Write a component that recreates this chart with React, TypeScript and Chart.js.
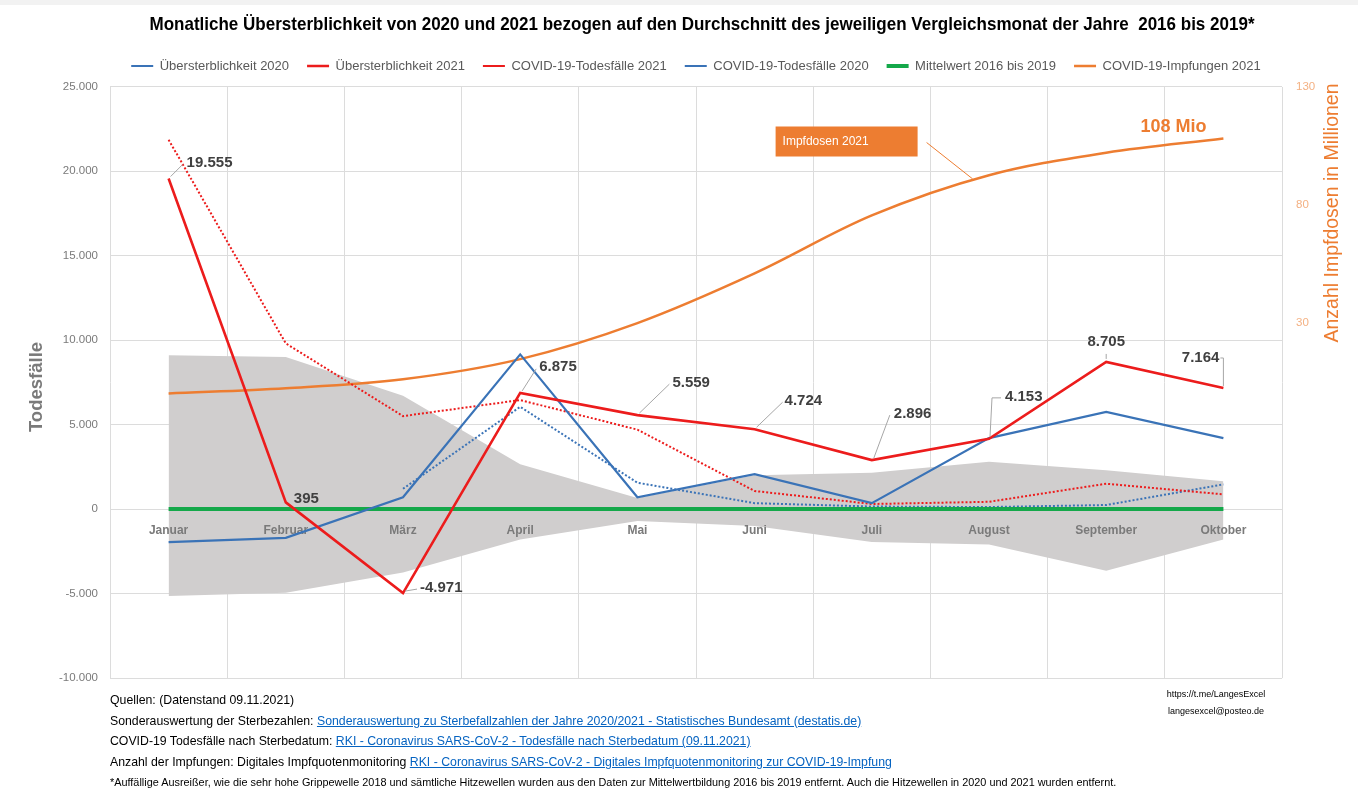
import React, { useEffect, useRef } from 'react';
import { Chart, registerables } from 'chart.js';

Chart.register(...registerables);

// ---------- data ----------
const months = ['Januar', 'Februar', 'März', 'April', 'Mai', 'Juni', 'Juli', 'August', 'September', 'Oktober'];
const ueber2020 = [-1950, -1700, 700, 9150, 700, 2070, 350, 4200, 5750, 4200];
const ueber2021 = [19555, 395, -4971, 6875, 5559, 4724, 2896, 4153, 8705, 7164];
const covid2021 = [21850, 9800, 5500, 6450, 4700, 1070, 300, 430, 1500, 870];
const covid2020 = [null, null, 1200, 6050, 1560, 350, 150, 120, 240, 1460];
const mittelwert = [0, 0, 0, 0, 0, 0, 0, 0, 0, 0];
const bandUpper = [9100, 9000, 6700, 2650, 650, 2000, 2150, 2800, 2300, 1650];
const bandLower = [-5150, -4950, -3750, -1800, -700, -1000, -1950, -2100, -3650, -1800];
const impfungen = [0.3, 2.5, 6.3, 14.8, 30, 51, 75.5, 92.5, 102, 108];

const leftMin = -10000;
const leftMax = 25000;
const leftStep = 5000;
const rightMin = -120;
const rightMax = 130;
const rightStep = 50;

const seriesNames = [
  'Übersterblichkeit 2020',
  'Übersterblichkeit 2021',
  'COVID-19-Todesfälle 2021',
  'COVID-19-Todesfälle 2020',
  'Mittelwert 2016 bis 2019',
  'COVID-19-Impfungen 2021',
];

const titleText =
  'Monatliche Übersterblichkeit von 2020 und 2021 bezogen auf den Durchschnitt des jeweiligen Vergleichsmonat der Jahre  2016 bis 2019*';

// ---------- styles ----------
const SANS = '"Liberation Sans", Arial, sans-serif';
const BLUE = '#3a73b7';
const RED = '#ec1c1c';
const GREEN = '#14a84a';
const ORANGE = '#ed7d31';
const BAND = '#d0cece';
const GRID = '#dcdcdc';
const TEXTGRAY = '#595959';
const AXISGRAY = '#7a7a7a';

// label placement for data labels of "Übersterblichkeit 2021": [dx, dy, align, leaderToX, leaderToY]
const labelPlacement: [number, number, CanvasTextAlign, number, number][] = [
  [18, -16, 'left', 14, -14],
  [8, -4, 'left', 0, 0],
  [17, -5, 'left', 14, -4],
  [19, -26, 'left', 16, -24],
  [35, -32, 'left', 32, -31],
  [30, -28, 'left', 28, -27],
  [22, -46, 'left', 18, -45],
  [16, -42, 'left', 12, -41],
  [0, -20, 'center', 0, -8],
  [-4, -30, 'right', 0, -30],
];

function fmt(v: number): string {
  const neg = v < 0;
  const s = String(Math.abs(Math.round(v)));
  const parts: string[] = [];
  for (let i = s.length; i > 0; i -= 3) parts.unshift(s.slice(Math.max(0, i - 3), i));
  return (neg ? '-' : '') + parts.join('.');
}

const overlayPlugin = {
  id: 'overlay',
  afterDatasetDraw(chart: any, args: any) {
    if (args.index !== 7) return;
    const ctx = chart.ctx;
    const xs = chart.scales.x;
    const ys = chart.scales.y;
    const y0 = ys.getPixelForValue(0);
    ctx.save();
    ctx.font = `bold 12px ${SANS}`;
    ctx.fillStyle = AXISGRAY;
    ctx.textAlign = 'center';
    ctx.textBaseline = 'middle';
    months.forEach((m, i) => {
      ctx.fillText(m, xs.getPixelForValue(i), y0 + 22);
    });
    ctx.restore();
  },
  afterDatasetsDraw(chart: any) {
    const ctx = chart.ctx;
    const xs = chart.scales.x;
    const ys = chart.scales.y;
    const y1 = chart.scales.y1;
    ctx.save();

    // title
    ctx.font = `bold 19px ${SANS}`;
    ctx.fillStyle = '#000000';
    ctx.textAlign = 'center';
    ctx.textBaseline = 'middle';
    ctx.fillText(titleText, 702, 25, 1105);

    // data labels
    ueber2021.forEach((v, i) => {
      const px = xs.getPixelForValue(i);
      const py = ys.getPixelForValue(v);
      const [dx, dy, align, lx, ly] = labelPlacement[i];
      if (lx !== 0 || ly !== 0) {
        ctx.strokeStyle = '#a6a6a6';
        ctx.lineWidth = 1;
        ctx.beginPath();
        if (i === 9) {
          ctx.moveTo(px, py - 2);
          ctx.lineTo(px, py + ly);
          ctx.lineTo(px - 3, py + ly);
        } else if (i === 7) {
          ctx.moveTo(px + 1, py - 2);
          ctx.lineTo(px + 3, py + ly);
          ctx.lineTo(px + lx, py + ly);
        } else if (i === 8) {
          ctx.moveTo(px, py - 3);
          ctx.lineTo(px, py + ly);
        } else {
          ctx.moveTo(px + 2, py - 2);
          ctx.lineTo(px + lx, py + ly);
        }
        ctx.stroke();
      }
      ctx.font = `bold 15px ${SANS}`;
      ctx.fillStyle = '#404040';
      ctx.textAlign = align;
      ctx.textBaseline = 'middle';
      ctx.fillText(fmt(v), px + dx, py + dy);
    });

    // Impfdosen box
    const xJul = xs.getPixelForValue(6);
    const xAug = xs.getPixelForValue(7);
    const yJul = y1.getPixelForValue(impfungen[6]);
    const yAug = y1.getPixelForValue(impfungen[7]);
    const t = 0.86;
    const ax = xJul + (xAug - xJul) * t;
    const ay = yJul + (yAug - yJul) * t - 2;
    const boxX = xs.getPixelForValue(5) + 21;
    const boxY = chart.chartArea.top + 40;
    ctx.strokeStyle = ORANGE;
    ctx.lineWidth = 1;
    ctx.beginPath();
    ctx.moveTo(boxX + 151, boxY + 16);
    ctx.lineTo(ax, ay);
    ctx.stroke();
    ctx.fillStyle = ORANGE;
    ctx.fillRect(boxX, boxY, 142, 30);
    ctx.fillStyle = '#ffffff';
    ctx.font = `12px ${SANS}`;
    ctx.textAlign = 'left';
    ctx.textBaseline = 'middle';
    ctx.fillText('Impfdosen 2021', boxX + 7, boxY + 15);

    // 108 Mio
    const last = impfungen.length - 1;
    const lxp = xs.getPixelForValue(last);
    const lyp = y1.getPixelForValue(impfungen[last]);
    ctx.fillStyle = ORANGE;
    ctx.font = `bold 18px ${SANS}`;
    ctx.textAlign = 'right';
    ctx.fillText(`${impfungen[last]} Mio`, lxp - 17, lyp - 12);

    // axis titles
    ctx.save();
    ctx.translate(37, 387);
    ctx.rotate(-Math.PI / 2);
    ctx.font = `bold 18.5px ${SANS}`;
    ctx.fillStyle = AXISGRAY;
    ctx.textAlign = 'center';
    ctx.textBaseline = 'middle';
    ctx.fillText('Todesfälle', 0, 0);
    ctx.restore();

    ctx.save();
    ctx.translate(1333, 213);
    ctx.rotate(-Math.PI / 2);
    ctx.font = `19.5px ${SANS}`;
    ctx.fillStyle = ORANGE;
    ctx.textAlign = 'center';
    ctx.textBaseline = 'middle';
    ctx.fillText('Anzahl Impfdosen in Millionen', 0, 0);
    ctx.restore();

    ctx.restore();
  },
};

const linkStyle: React.CSSProperties = { color: '#0563c1', textDecoration: 'underline' };

export default function App() {
  const ref = useRef<HTMLCanvasElement | null>(null);

  useEffect(() => {
    document.body.style.margin = '0';
    if (!ref.current) return;
    const lineBase = { pointRadius: 0, pointHoverRadius: 0, tension: 0, fill: false };
    const chart = new Chart(ref.current, {
      type: 'line',
      data: {
        labels: months,
        datasets: [
          { ...lineBase, label: seriesNames[0], data: ueber2020, borderColor: BLUE, backgroundColor: BLUE, borderWidth: 2.2, order: 1, yAxisID: 'y' },
          { ...lineBase, label: seriesNames[1], data: ueber2021, borderColor: RED, backgroundColor: RED, borderWidth: 2.6, order: 0, yAxisID: 'y' },
          { ...lineBase, label: seriesNames[2], data: covid2021, borderColor: RED, backgroundColor: RED, borderWidth: 2, borderDash: [2, 2], order: 3, yAxisID: 'y' },
          { ...lineBase, label: seriesNames[3], data: covid2020, borderColor: BLUE, backgroundColor: BLUE, borderWidth: 2, borderDash: [2, 2], order: 4, yAxisID: 'y' },
          { ...lineBase, label: seriesNames[4], data: mittelwert, borderColor: GREEN, backgroundColor: GREEN, borderWidth: 4, order: 2, yAxisID: 'y' },
          { ...lineBase, label: seriesNames[5], data: impfungen, borderColor: ORANGE, backgroundColor: ORANGE, borderWidth: 2.5, tension: 0.35, order: 5, yAxisID: 'y1' },
          { ...lineBase, label: 'band-lower', data: bandLower, borderColor: 'rgba(0,0,0,0)', borderWidth: 0, order: 20, yAxisID: 'y' },
          { ...lineBase, label: 'band-upper', data: bandUpper, borderColor: 'rgba(0,0,0,0)', borderWidth: 0, backgroundColor: BAND, fill: '-1', order: 19, yAxisID: 'y' },
        ] as any,
      },
      options: {
        responsive: false,
        animation: false,
        devicePixelRatio: 1,
        layout: { padding: { top: 41.5, left: 0, right: 0, bottom: 4 } },
        plugins: {
          tooltip: { enabled: false },
          title: { display: false },
          legend: {
            display: true,
            fullSize: false,
            labels: {
              usePointStyle: true,
              pointStyle: 'line',
              pointStyleWidth: 22,
              boxHeight: 13,
              color: TEXTGRAY,
              padding: 18,
              font: { family: SANS, size: 13 },
              filter: (item: any) => item.datasetIndex < 6,
              sort: (a: any, b: any) => a.datasetIndex - b.datasetIndex,
            },
          },
        },
        scales: {
          x: {
            position: 'top',
            offset: true,
            grid: { display: true, offset: true, color: GRID, drawTicks: true, tickLength: 4, tickColor: 'rgba(0,0,0,0)' },
            border: { display: false },
            ticks: { display: false },
          },
          y: {
            position: 'left',
            min: leftMin,
            max: leftMax,
            grid: { color: GRID, drawTicks: false },
            border: { display: false },
            ticks: {
              stepSize: leftStep,
              padding: 12,
              color: AXISGRAY,
              font: { family: SANS, size: 11.5 },
              callback: (v: any) => fmt(Number(v)),
            },
            afterFit: (s: any) => {
              s.width = 110;
            },
          },
          y1: {
            position: 'right',
            min: rightMin,
            max: rightMax,
            grid: { display: false, drawTicks: false },
            border: { display: false },
            ticks: {
              stepSize: rightStep,
              padding: 14,
              color: '#f4b183',
              font: { family: SANS, size: 11.5 },
              callback: (v: any) => (Number(v) >= 0 ? String(v) : ''),
            },
            afterFit: (s: any) => {
              s.width = 76;
            },
          },
        },
      },
      plugins: [overlayPlugin],
    } as any);
    return () => chart.destroy();
  }, []);

  return (
    <div style={{ position: 'relative', width: 1358, height: 805, background: '#ffffff', overflow: 'hidden' }}>
      <div style={{ position: 'absolute', left: 0, top: 0, width: 1358, height: 5, background: '#f2f2f2' }} />
      <canvas ref={ref} width={1358} height={699} style={{ position: 'absolute', left: 0, top: 0, width: 1358, height: 699 }} />
      <div
        style={{
          position: 'absolute',
          left: 110,
          top: 690,
          fontFamily: SANS,
          fontSize: 13,
          lineHeight: '20.5px',
          color: '#000',
          whiteSpace: 'nowrap',
          transform: 'scaleX(0.945)',
          transformOrigin: '0 0',
        }}
      >
        <div>Quellen: (Datenstand 09.11.2021)</div>
        <div>
          Sonderauswertung der Sterbezahlen:{' '}
          <span style={linkStyle}>Sonderauswertung zu Sterbefallzahlen der Jahre 2020/2021 - Statistisches Bundesamt (destatis.de)</span>
        </div>
        <div>
          COVID-19 Todesfälle nach Sterbedatum:{' '}
          <span style={linkStyle}>RKI - Coronavirus SARS-CoV-2 - Todesfälle nach Sterbedatum (09.11.2021)</span>
        </div>
        <div>
          Anzahl der Impfungen: Digitales Impfquotenmonitoring{' '}
          <span style={linkStyle}>RKI - Coronavirus SARS-CoV-2 - Digitales Impfquotenmonitoring zur COVID-19-Impfung</span>
        </div>
        <div style={{ fontSize: 11.5 }}>
          *Auffällige Ausreißer, wie die sehr hohe Grippewelle 2018 und sämtliche Hitzewellen wurden aus den Daten zur Mittelwertbildung 2016 bis 2019 entfernt. Auch die Hitzewellen in 2020 und 2021 wurden entfernt.
        </div>
      </div>
      <div
        style={{
          position: 'absolute',
          left: 1141,
          width: 150,
          top: 686,
          textAlign: 'center',
          fontFamily: SANS,
          fontSize: 9,
          lineHeight: '17px',
          color: '#000',
        }}
      >
        <div>https://t.me/LangesExcel</div>
        <div>langesexcel@posteo.de</div>
      </div>
    </div>
  );
}
